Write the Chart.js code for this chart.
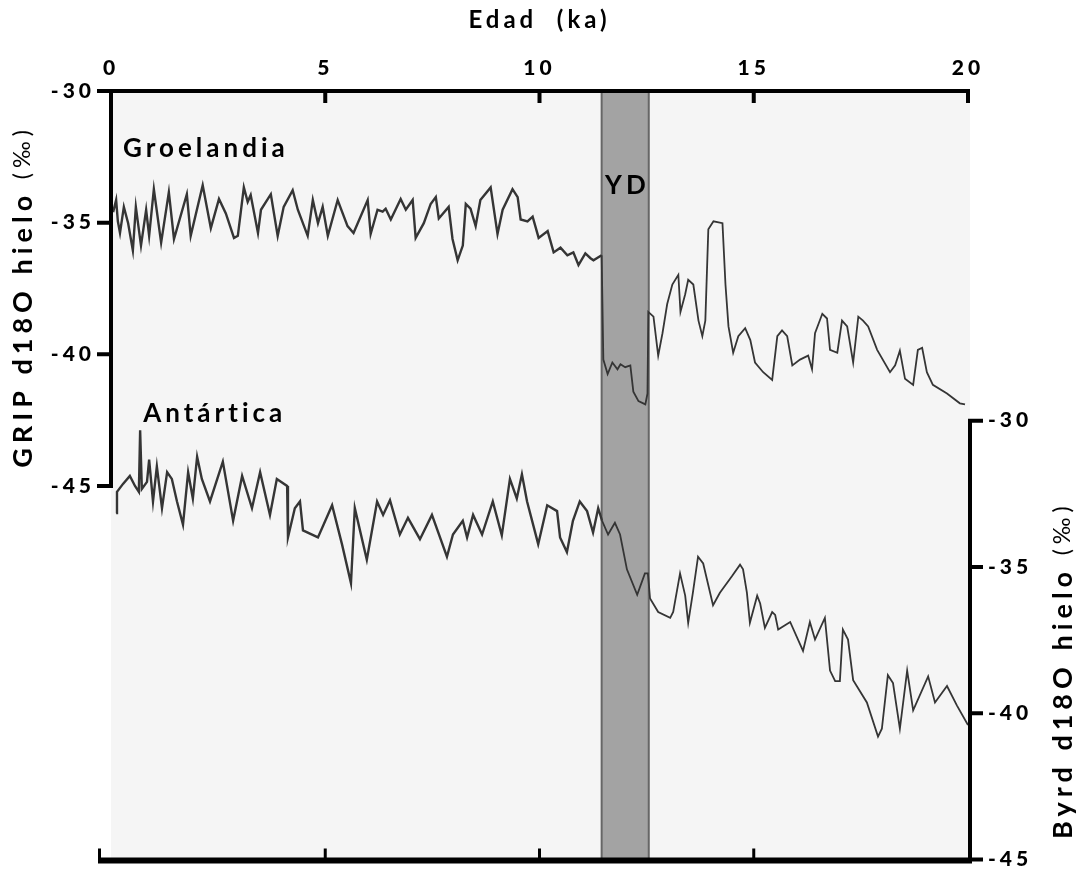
<!DOCTYPE html>
<html>
<head>
<meta charset="utf-8">
<script src="https://cdn.jsdelivr.net/npm/chart.js@4.4.0/dist/chart.umd.min.js"></script>
<style>
html,body{margin:0;padding:0;background:#fff;}
#wrap{position:relative;width:1079px;height:893px;}
</style>
</head>
<body>
<div id="wrap"><canvas id="c"></canvas></div>
<script>
// ---- data ----
const xTicks = [0, 5, 10, 15, 20];
const gripTicks = [-30, -35, -40, -45];
const byrdTicks = [-30, -35, -40, -45];
const ydRange = [11.45, 12.55];

const grAge = [0.05,0.12,0.16,0.21,0.30,0.40,0.51,0.58,0.70,0.82,0.89,1.00,1.17,1.35,1.47,1.77,1.86,2.14,2.33,2.52,2.68,2.87,2.96,3.10,3.19,3.26,3.43,3.50,3.73,3.89,4.03,4.24,4.36,4.59,4.71,4.83,4.94,5.06,5.29,5.52,5.66,5.99,6.06,6.22,6.34,6.41,6.53,6.76,6.88,7.04,7.11,7.30,7.46,7.58,7.65,7.88,7.97,8.09,8.21,8.28,8.39,8.51,8.62,8.86,9.02,9.14,9.37,9.49,9.56,9.72,9.84,9.98,10.19,10.33,10.49,10.65,10.79,10.91,11.07,11.19,11.26,11.45,
  11.49,11.59,11.70,11.82,11.89,12.00,12.12,12.19,12.31,12.47,12.52,
  12.54,12.66,12.77,12.87,12.98,13.10,13.24,13.29,13.40,13.47,13.59,13.71,13.80,13.87,13.94,14.06,14.27,14.34,14.41,14.52,14.64,14.80,14.92,15.03,15.22,15.43,15.55,15.66,15.78,15.90,16.08,16.27,16.36,16.43,16.60,16.71,16.78,16.95,17.06,17.18,17.32,17.44,17.55,17.67,17.88,18.18,18.30,18.41,18.53,18.72,18.83,18.93,19.04,19.18,19.51,19.81,19.93];
const grVal = [-34.6,-34.14,-34.95,-35.39,-34.40,-35.02,-36.06,-34.40,-35.87,-34.51,-35.50,-33.73,-35.76,-33.84,-35.62,-33.92,-35.50,-33.58,-35.21,-34.10,-34.65,-35.58,-35.50,-33.66,-34.21,-33.95,-35.39,-34.51,-33.92,-35.50,-34.40,-33.77,-34.51,-35.50,-34.14,-35.02,-34.40,-35.50,-34.14,-35.13,-35.39,-34.14,-35.43,-34.51,-34.58,-34.47,-34.88,-34.10,-34.51,-34.14,-35.58,-35.02,-34.29,-34.03,-34.84,-34.40,-35.62,-36.43,-35.87,-34.29,-34.47,-35.13,-34.14,-33.66,-35.43,-34.51,-33.73,-34.03,-34.88,-34.95,-34.77,-35.58,-35.32,-36.13,-35.95,-36.24,-36.13,-36.61,-36.17,-36.35,-36.43,-36.24,
  -40.20,-40.75,-40.31,-40.57,-40.38,-40.49,-40.42,-41.42,-41.78,-41.90,-41.49,
  -38.39,-38.57,-40.05,-39.20,-38.09,-37.35,-36.98,-38.39,-37.72,-37.17,-37.35,-38.72,-39.31,-38.72,-35.25,-34.95,-35.02,-37.35,-38.94,-39.94,-39.31,-39.01,-39.46,-40.31,-40.68,-40.97,-39.31,-39.09,-39.31,-40.42,-40.20,-40.05,-40.57,-39.20,-38.46,-38.64,-39.83,-39.94,-38.72,-38.94,-40.31,-38.57,-38.72,-38.94,-39.83,-40.68,-40.42,-39.86,-40.93,-41.16,-39.83,-39.75,-40.68,-41.16,-41.49,-41.86,-41.90];

const byAge = [0.12,0.14,0.28,0.44,0.56,0.65,0.68,0.72,0.84,0.89,0.98,1.07,1.19,1.31,1.42,1.54,1.68,1.80,1.91,2.01,2.12,2.31,2.61,2.85,3.06,3.29,3.48,3.71,3.87,4.11,4.13,4.29,4.41,4.48,4.83,5.16,5.39,5.60,5.69,5.97,6.21,6.35,6.51,6.74,6.93,7.21,7.49,7.84,7.98,8.21,8.31,8.45,8.66,8.91,9.12,9.31,9.47,9.59,9.71,9.97,10.18,10.41,10.48,10.64,10.78,10.94,11.11,11.25,11.37,11.46,11.60,11.76,11.88,12.04,12.28,12.46,12.53,12.58,12.77,13.05,13.12,13.28,13.40,13.47,13.58,13.70,13.82,14.05,14.21,14.49,14.68,14.75,14.84,14.91,15.08,15.15,15.26,15.43,15.50,15.57,15.85,16.15,16.31,16.43,16.66,16.78,16.90,17.01,17.08,17.20,17.32,17.64,17.90,17.99,18.13,18.25,18.41,18.58,18.72,19.07,19.23,19.51,19.74,20.00];
const byVal = [-33.16,-32.43,-32.16,-31.89,-32.23,-32.43,-30.33,-32.33,-32.09,-31.33,-32.76,-31.56,-32.99,-31.76,-31.99,-32.76,-33.55,-31.76,-32.66,-31.23,-31.99,-32.76,-31.40,-33.42,-31.89,-32.99,-31.76,-33.22,-31.99,-32.23,-33.99,-32.99,-32.76,-33.75,-33.99,-32.89,-34.22,-35.55,-32.99,-34.75,-32.76,-33.22,-32.72,-33.89,-33.32,-34.05,-33.22,-34.65,-33.89,-33.42,-33.99,-33.22,-33.89,-32.76,-33.92,-31.99,-32.66,-31.83,-32.76,-34.22,-32.89,-33.09,-33.99,-34.49,-33.42,-32.76,-33.09,-33.82,-32.99,-33.42,-33.89,-33.49,-33.89,-35.08,-35.95,-35.22,-35.22,-36.08,-36.54,-36.74,-36.54,-35.22,-35.98,-36.91,-35.88,-34.65,-34.88,-36.31,-35.88,-35.32,-34.92,-35.08,-35.88,-36.91,-35.98,-36.25,-37.08,-36.54,-36.64,-37.14,-36.88,-37.87,-36.88,-37.48,-36.74,-38.54,-38.90,-38.90,-37.14,-37.48,-38.87,-39.63,-40.80,-40.53,-38.70,-38.97,-40.53,-38.54,-39.90,-38.74,-39.63,-39.07,-39.73,-40.40];

// ---- styling ----
const FONT = 'Lato, "DejaVu Sans", sans-serif';
const LS = '4px';

function pts(a, v) {
  const n = Math.min(a.length, v.length), out = [];
  for (let i = 0; i < n; i++) out.push({x: a[i], y: v[i]});
  return out;
}

const segW = c => (c.p0.parsed.x < 11.4 ? 2.4 : 1.8);

const decor = {
  id: 'decor',
  beforeLayout(chart) { chart.ctx.letterSpacing = LS; },
  beforeDraw(chart) {
    const {ctx, chartArea: a} = chart;
    ctx.letterSpacing = LS;
    ctx.save();
    ctx.fillStyle = '#ffffff';
    ctx.fillRect(0, 0, chart.width, chart.height);
    ctx.fillStyle = '#f5f5f5';
    ctx.fillRect(a.left, a.top, a.right - a.left + 2, a.bottom - a.top);
    ctx.restore();
  },
  beforeDatasetsDraw(chart) {
    const {ctx, chartArea: a, scales} = chart;
    const x0 = scales.x.getPixelForValue(ydRange[0]);
    const x1 = scales.x.getPixelForValue(ydRange[1]);
    ctx.save();
    ctx.fillStyle = '#a3a3a3';
    ctx.fillRect(x0, a.top, x1 - x0, a.bottom - a.top);
    ctx.strokeStyle = '#666666';
    ctx.lineWidth = 2;
    ctx.beginPath();
    ctx.moveTo(x0, a.top); ctx.lineTo(x0, a.bottom);
    ctx.moveTo(x1, a.top); ctx.lineTo(x1, a.bottom);
    ctx.stroke();
    ctx.restore();
  },
  afterDraw(chart) {
    const {ctx, chartArea: a, scales} = chart;
    const sx = scales.x, sl = scales.yL, sr = scales.yR;
    ctx.save();
    ctx.strokeStyle = '#000';
    ctx.lineCap = 'butt';
    // top axis
    ctx.lineWidth = 4;
    ctx.beginPath();
    ctx.moveTo(a.left - 2, a.top); ctx.lineTo(a.right + 2, a.top);
    xTicks.slice(1).forEach(v => {
      const px = sx.getPixelForValue(v);
      ctx.moveTo(px, a.top); ctx.lineTo(px, a.top + 12);
    });
    ctx.stroke();
    // left axis (GRIP)
    ctx.beginPath();
    ctx.moveTo(a.left, sl.getPixelForValue(gripTicks[0]) - 2);
    ctx.lineTo(a.left, sl.getPixelForValue(gripTicks[gripTicks.length - 1]) + 2);
    gripTicks.forEach(v => {
      const py = sl.getPixelForValue(v);
      ctx.moveTo(a.left - 14, py); ctx.lineTo(a.left, py);
    });
    ctx.stroke();
    // right axis (Byrd)
    const rx = a.right + 2;
    ctx.beginPath();
    ctx.moveTo(rx, sr.getPixelForValue(byrdTicks[0]) - 2);
    ctx.lineTo(rx, a.bottom);
    byrdTicks.forEach(v => {
      const py = sr.getPixelForValue(v);
      ctx.moveTo(rx, py); ctx.lineTo(rx + 13, py);
    });
    ctx.stroke();
    // bottom axis
    ctx.lineWidth = 6;
    ctx.beginPath();
    ctx.moveTo(a.left - 13, a.bottom); ctx.lineTo(rx + 2, a.bottom);
    ctx.stroke();
    ctx.lineWidth = 3;
    ctx.beginPath();
    ctx.moveTo(a.left - 11.5, a.bottom); ctx.lineTo(a.left - 11.5, a.bottom - 12);
    [5, 10, 15].forEach(v => {
      const px = sx.getPixelForValue(v);
      ctx.moveTo(px, a.bottom); ctx.lineTo(px, a.bottom - 12);
    });
    ctx.stroke();

    // annotations
    ctx.fillStyle = '#000';
    ctx.textBaseline = 'middle';
    ctx.textAlign = 'left';
    ctx.letterSpacing = '4px';
    ctx.font = 'bold 26px ' + FONT;
    ctx.fillText('Groelandia', sx.getPixelForValue(0.28), sl.getPixelForValue(-32.18));
    ctx.fillText('Antártica', sx.getPixelForValue(0.75), sl.getPixelForValue(-42.26));
    ctx.textAlign = 'center';
    ctx.fillText('YD', sx.getPixelForValue(12.05), sl.getPixelForValue(-33.58));

    // rotated axis titles
    function rot(bold, light, cx, cy) {
      ctx.save();
      ctx.translate(cx, cy);
      ctx.rotate(-Math.PI / 2);
      ctx.letterSpacing = '5px';
      ctx.textBaseline = 'middle';
      ctx.textAlign = 'left';
      ctx.font = 'bold 27px ' + FONT;
      const w1 = ctx.measureText(bold).width;
      ctx.font = '23px ' + FONT;
      const w2 = ctx.measureText(light).width;
      const start = -(w1 + w2) / 2;
      ctx.font = 'bold 27px ' + FONT;
      ctx.fillText(bold, start, 0);
      ctx.font = '23px ' + FONT;
      ctx.fillText(light, start + w1, 0);
      ctx.restore();
    }
    const lMid = (sl.getPixelForValue(gripTicks[0]) + sl.getPixelForValue(gripTicks[3])) / 2;
    const rMid = (sr.getPixelForValue(byrdTicks[0]) + sr.getPixelForValue(byrdTicks[3])) / 2;
    rot('GRIP d18O hielo ', '(‰)', 23, lMid + 8);
    rot('Byrd d18O hielo ', '(‰)', 1063, rMid + 30);
    ctx.restore();
  }
};

const tickFont = {family: FONT, size: 21, weight: '900'};

new Chart(document.getElementById('c'), {
  type: 'line',
  data: {
    datasets: [
      {label: 'GRIP', data: pts(grAge, grVal), yAxisID: 'yL', borderColor: '#353535', borderWidth: 2, pointRadius: 0, tension: 0, segment: {borderWidth: segW}},
      {label: 'Byrd', data: pts(byAge, byVal), yAxisID: 'yR', borderColor: '#353535', borderWidth: 2, pointRadius: 0, tension: 0, segment: {borderWidth: segW}}
    ]
  },
  options: {
    responsive: true,
    maintainAspectRatio: false,
    animation: false,
    layout: {padding: {left: 0, right: 0, top: 0, bottom: 11}},
    plugins: {legend: {display: false}, tooltip: {enabled: false}},
    scales: {
      x: {
        type: 'linear', position: 'top', min: 0, max: 20,
        afterBuildTicks: s => { s.ticks = xTicks.map(v => ({value: v})); },
        ticks: {color: '#000', font: tickFont, padding: 10, maxRotation: 0, autoSkip: false},
        grid: {display: false, drawTicks: false},
        border: {display: false},
        title: {display: true, text: 'Edad  (ka)', color: '#000', font: {family: FONT, size: 24, weight: 'bold'}, padding: {top: 6, bottom: 0}},
        afterFit: s => { s.height = 91; }
      },
      yL: {
        type: 'linear', position: 'left', min: -59.22, max: -30,
        afterBuildTicks: s => { s.ticks = gripTicks.map(v => ({value: v})); },
        ticks: {color: '#000', font: tickFont, padding: 16},
        grid: {display: false, drawTicks: false},
        border: {display: false},
        afterFit: s => { s.width = 111; }
      },
      yR: {
        type: 'linear', position: 'right', min: -45.03, max: -18.73,
        afterBuildTicks: s => { s.ticks = byrdTicks.map(v => ({value: v})); },
        ticks: {color: '#000', font: tickFont, padding: 20},
        grid: {display: false, drawTicks: false},
        border: {display: false},
        afterFit: s => { s.width = 111; }
      }
    }
  },
  plugins: [decor]
});
</script>
</body>
</html>
